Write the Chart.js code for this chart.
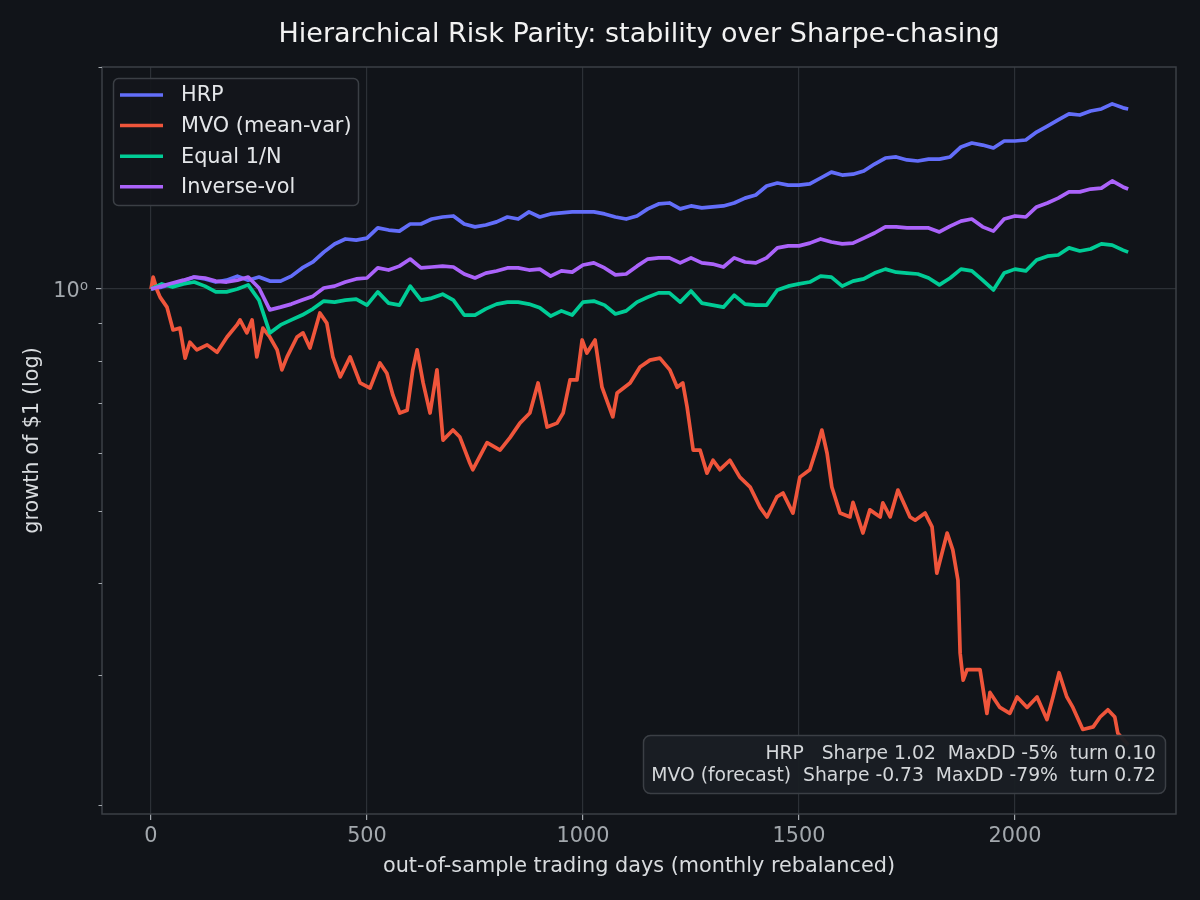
<!DOCTYPE html>
<html>
<head>
<meta charset="utf-8">
<script src="https://cdn.jsdelivr.net/npm/chart.js@4.4.1/dist/chart.umd.min.js"></script>
<style>
  html, body { margin: 0; padding: 0; background: #111419; }
</style>
</head>
<body>
<canvas id="chart" width="1200" height="900"></canvas>
<script>
// out-of-sample trading day index for each reading (HRP, Equal, Inverse-vol)
const days = [0, 25, 50, 75, 100, 125, 150, 175, 200, 225, 250, 275, 300, 325, 350, 375, 400, 425, 450, 475,
  500, 525, 550, 575, 600, 625, 650, 675, 700, 725, 750, 775, 800, 825, 850, 875, 900, 925, 950, 975,
  1000, 1025, 1050, 1075, 1100, 1125, 1150, 1175, 1200, 1225, 1250, 1275, 1300, 1325, 1350, 1375, 1400, 1425, 1450, 1475,
  1500, 1525, 1550, 1575, 1600, 1625, 1650, 1675, 1700, 1725, 1750, 1775, 1800, 1825, 1850, 1875, 1900, 1925, 1950, 1975,
  2000, 2025, 2050, 2075, 2100, 2125, 2150, 2175, 2200, 2225, 2250, 2262];

// MVO is read at its own turning points
const mvoDays = [0, 5, 14, 21, 37, 51, 67, 79, 90, 106, 130, 153, 176, 199, 206, 222, 234, 245, 259, 275,
  292, 303, 315, 338, 352, 368, 391, 407, 421, 438, 461, 484, 507, 530, 546, 560, 576, 593, 606, 616,
  630, 646, 662, 676, 699, 715, 738, 745, 778, 808, 831, 854, 877, 896, 917, 940, 954, 970, 986, 998,
  1009, 1028, 1044, 1069, 1079, 1109, 1132, 1155, 1178, 1201, 1218, 1231, 1241, 1255, 1271, 1287, 1301, 1317, 1340, 1363,
  1387, 1410, 1426, 1449, 1463, 1486, 1502, 1525, 1542, 1553, 1565, 1576, 1595, 1618, 1625, 1648, 1664, 1688, 1694, 1711,
  1729, 1757, 1769, 1792, 1808, 1819, 1843, 1856, 1868, 1873, 1880, 1889, 1919, 1935, 1942, 1965, 1988, 2005, 2028, 2051,
  2074, 2088, 2102, 2120, 2134, 2157, 2181, 2197, 2215, 2231, 2238, 2262];

// growth of $1
const hrp = [1.000, 1.006, 1.016, 1.025, 1.038, 1.032, 1.022, 1.028, 1.041, 1.028, 1.038, 1.025, 1.025, 1.041, 1.068, 1.088, 1.122, 1.151, 1.169, 1.165,
  1.172, 1.210, 1.202, 1.198, 1.225, 1.225, 1.244, 1.252, 1.256, 1.225, 1.214, 1.221, 1.233, 1.252, 1.244, 1.272, 1.252, 1.264, 1.268, 1.272,
  1.272, 1.272, 1.264, 1.252, 1.244, 1.256, 1.284, 1.304, 1.308, 1.284, 1.296, 1.288, 1.292, 1.296, 1.308, 1.328, 1.341, 1.379, 1.392, 1.383,
  1.383, 1.388, 1.414, 1.440, 1.427, 1.431, 1.445, 1.477, 1.505, 1.510, 1.496, 1.491, 1.500, 1.500, 1.510, 1.558, 1.577, 1.567, 1.553, 1.587,
  1.587, 1.592, 1.632, 1.663, 1.695, 1.727, 1.721, 1.743, 1.754, 1.782, 1.760, 1.754];

const mvo = [1.000, 1.038, 0.997, 0.975, 0.945, 0.880, 0.885, 0.806, 0.847, 0.827, 0.840, 0.821, 0.861, 0.894, 0.908, 0.872, 0.908, 0.809, 0.885, 0.861,
  0.827, 0.777, 0.809, 0.861, 0.872, 0.832, 0.928, 0.899, 0.809, 0.760, 0.809, 0.746, 0.734, 0.794, 0.769, 0.718, 0.679, 0.685, 0.777, 0.827,
  0.746, 0.679, 0.777, 0.624, 0.644, 0.630, 0.581, 0.569, 0.619, 0.605, 0.629, 0.658, 0.679, 0.746, 0.650, 0.658, 0.679, 0.753, 0.753, 0.853,
  0.819, 0.853, 0.736, 0.671, 0.723, 0.746, 0.784, 0.801, 0.806, 0.777, 0.736, 0.746, 0.692, 0.605, 0.605, 0.563, 0.586, 0.569, 0.586, 0.556,
  0.539, 0.506, 0.491, 0.523, 0.529, 0.497, 0.556, 0.569, 0.611, 0.644, 0.599, 0.539, 0.497, 0.491, 0.514, 0.467, 0.502, 0.491, 0.513, 0.491,
  0.534, 0.491, 0.486, 0.497, 0.476, 0.412, 0.467, 0.443, 0.403, 0.321, 0.295, 0.305, 0.305, 0.266, 0.284, 0.271, 0.266, 0.280, 0.271, 0.280,
  0.261, 0.280, 0.302, 0.280, 0.271, 0.253, 0.255, 0.263, 0.269, 0.263, 0.250, 0.241];

const equal = [1.000, 1.016, 1.006, 1.016, 1.022, 1.009, 0.991, 0.991, 1.000, 1.013, 0.966, 0.872, 0.894, 0.908, 0.922, 0.940, 0.963, 0.960, 0.966, 0.969,
  0.951, 0.991, 0.957, 0.951, 1.009, 0.966, 0.972, 0.984, 0.966, 0.922, 0.922, 0.940, 0.954, 0.960, 0.960, 0.954, 0.943, 0.919, 0.934, 0.922,
  0.960, 0.963, 0.951, 0.925, 0.934, 0.960, 0.975, 0.988, 0.988, 0.960, 0.994, 0.957, 0.951, 0.945, 0.981, 0.954, 0.951, 0.951, 0.997, 1.009,
  1.016, 1.022, 1.041, 1.038, 1.009, 1.025, 1.032, 1.051, 1.064, 1.054, 1.051, 1.048, 1.035, 1.013, 1.035, 1.064, 1.058, 1.028, 0.997, 1.051,
  1.064, 1.058, 1.095, 1.108, 1.112, 1.137, 1.126, 1.133, 1.151, 1.147, 1.129, 1.122];

const invVol = [1.000, 1.009, 1.019, 1.028, 1.038, 1.035, 1.025, 1.022, 1.028, 1.038, 1.003, 0.937, 0.945, 0.954, 0.966, 0.978, 1.003, 1.009, 1.022, 1.032,
  1.035, 1.068, 1.061, 1.074, 1.098, 1.068, 1.071, 1.074, 1.071, 1.048, 1.035, 1.051, 1.058, 1.068, 1.068, 1.061, 1.064, 1.041, 1.058, 1.054,
  1.078, 1.085, 1.068, 1.045, 1.048, 1.074, 1.098, 1.102, 1.102, 1.085, 1.102, 1.085, 1.081, 1.071, 1.102, 1.088, 1.085, 1.102, 1.137, 1.144,
  1.144, 1.154, 1.169, 1.158, 1.151, 1.154, 1.172, 1.191, 1.214, 1.214, 1.210, 1.210, 1.210, 1.195, 1.217, 1.236, 1.244, 1.214, 1.198, 1.244,
  1.256, 1.252, 1.292, 1.308, 1.328, 1.354, 1.354, 1.366, 1.370, 1.401, 1.375, 1.366];

const seriesNames  = ["HRP", "MVO (mean-var)", "Equal 1/N", "Inverse-vol"];
const seriesColors = ["#636efa", "#ef553b", "#00cc96", "#ab63fa"];

const xTicks       = [0, 500, 1000, 1500, 2000];
const yMajorTicks  = [1];
const yMinorTicks  = [0.2, 0.3, 0.4, 0.5, 0.6, 0.7, 0.8, 0.9, 2];

const titleText = "Hierarchical Risk Parity: stability over Sharpe-chasing";
const statsLines = [
  "HRP   Sharpe 1.02  MaxDD -5%  turn 0.10",
  "MVO (forecast)  Sharpe -0.73  MaxDD -79%  turn 0.72"
];

const FONT      = "'DejaVu Sans', 'Liberation Sans', sans-serif";
const BG        = "#111419";
const GRID      = "#2c3036";
const SPINE     = "#3b3f45";
const TICK_TEXT = "#a3a8ad";
const LABEL     = "#d8dbde";

const series     = [hrp, mvo, equal, invVol];
const seriesDays = [days, mvoDays, days, days];

// background, title, frame, minor ticks, legend and stats box
const decorations = {
  id: "decorations",
  beforeDraw(chart) {
    const c = chart.ctx;
    c.save();
    c.fillStyle = BG;
    c.fillRect(0, 0, chart.width, chart.height);
    c.restore();
  },
  afterDraw(chart) {
    const c = chart.ctx;
    const a = chart.chartArea;
    const yScale = chart.scales.y;

    c.save();
    // title, centred over the axes
    c.font = "27px " + FONT;
    c.fillStyle = "#f2f2f2";
    c.textAlign = "center";
    c.textBaseline = "middle";
    c.fillText(titleText, (a.left + a.right) / 2, 35);

    // spines
    c.strokeStyle = SPINE;
    c.lineWidth = 1.5;
    c.strokeRect(a.left, a.top, a.right - a.left, a.bottom - a.top);

    // minor log ticks
    c.strokeStyle = TICK_TEXT;
    c.lineWidth = 1;
    yMinorTicks.forEach(v => {
      const y = Math.round(yScale.getPixelForValue(v)) + 0.5;
      c.beginPath();
      c.moveTo(a.left - 3.5, y);
      c.lineTo(a.left, y);
      c.stroke();
    });

    // legend
    c.beginPath();
    c.roundRect(113.5, 78.5, 245, 127, 5);
    c.fillStyle = "rgba(19,22,27,0.92)";
    c.fill();
    c.strokeStyle = SPINE;
    c.lineWidth = 1.5;
    c.stroke();
    c.font = "20.8px " + FONT;
    c.textBaseline = "middle";
    c.textAlign = "left";
    chart.data.datasets.forEach((ds, i) => {
      const y = 95 + i * 30.6;
      c.strokeStyle = ds.borderColor;
      c.lineWidth = 3.5;
      c.beginPath();
      c.moveTo(120, y);
      c.lineTo(163, y);
      c.stroke();
      c.fillStyle = "#e4e6e9";
      c.fillText(ds.label, 181, y + 1);
    });

    // stats box
    c.beginPath();
    c.roundRect(643.5, 735.5, 522, 58, 7);
    c.fillStyle = "rgba(26,30,35,0.96)";
    c.fill();
    c.strokeStyle = SPINE;
    c.lineWidth = 1.5;
    c.stroke();
    c.font = "18.75px " + FONT;
    c.fillStyle = "#d4d7da";
    c.textAlign = "right";
    statsLines.forEach((t, i) => c.fillText(t, 1156, 754 + i * 22));
    c.restore();
  }
};

const ctx = document.getElementById("chart").getContext("2d");
new Chart(ctx, {
  type: "line",
  data: {
    datasets: series.map((s, i) => ({
      label: seriesNames[i],
      data: seriesDays[i].map((d, j) => ({ x: d, y: s[j] })),
      borderColor: seriesColors[i],
      backgroundColor: seriesColors[i],
      borderWidth: 3.7,
      borderJoinStyle: "round",
      pointRadius: 0,
      tension: 0,
      fill: false,
      order: 3 - i
    }))
  },
  options: {
    responsive: false,
    animation: false,
    devicePixelRatio: 1,
    layout: { padding: { left: 0, right: 24, top: 67, bottom: 0 } },
    plugins: {
      legend: { display: false },
      tooltip: { enabled: false },
      title: { display: false }
    },
    scales: {
      x: {
        type: "linear",
        min: -113.4,
        max: 2372.7,
        afterBuildTicks: s => { s.ticks = xTicks.map(v => ({ value: v })); },
        afterFit: s => { s.height = 86; },
        border: { display: false },
        grid: { color: GRID, lineWidth: 1.2, tickColor: TICK_TEXT, tickLength: 6 },
        ticks: {
          color: TICK_TEXT,
          font: { family: FONT, size: 20.8 },
          padding: 4,
          maxRotation: 0,
          autoSkip: false,
          callback: v => String(v)
        },
        title: {
          display: true,
          text: "out-of-sample trading days (monthly rebalanced)",
          color: LABEL,
          font: { family: FONT, size: 20.8 },
          padding: { top: 0, bottom: 21 }
        }
      },
      y: {
        type: "logarithmic",
        min: 0.19432,
        max: 1.9993,
        afterBuildTicks: s => { s.ticks = yMajorTicks.map(v => ({ value: v, major: true })); },
        afterFit: s => { s.width = 102; },
        border: { display: false },
        grid: { color: GRID, lineWidth: 1.2, tickColor: TICK_TEXT, tickLength: 6 },
        ticks: {
          color: TICK_TEXT,
          font: { family: FONT, size: 20.8 },
          padding: 8,
          labelOffset: 3,
          autoSkip: false,
          callback: v => (v === 1 ? "10\u2070" : "")
        },
        title: {
          display: true,
          text: "growth of $1 (log)",
          color: LABEL,
          font: { family: FONT, size: 20.8 },
          padding: { top: 20, bottom: 0 }
        }
      }
    }
  },
  plugins: [decorations]
});
</script>
</body>
</html>
